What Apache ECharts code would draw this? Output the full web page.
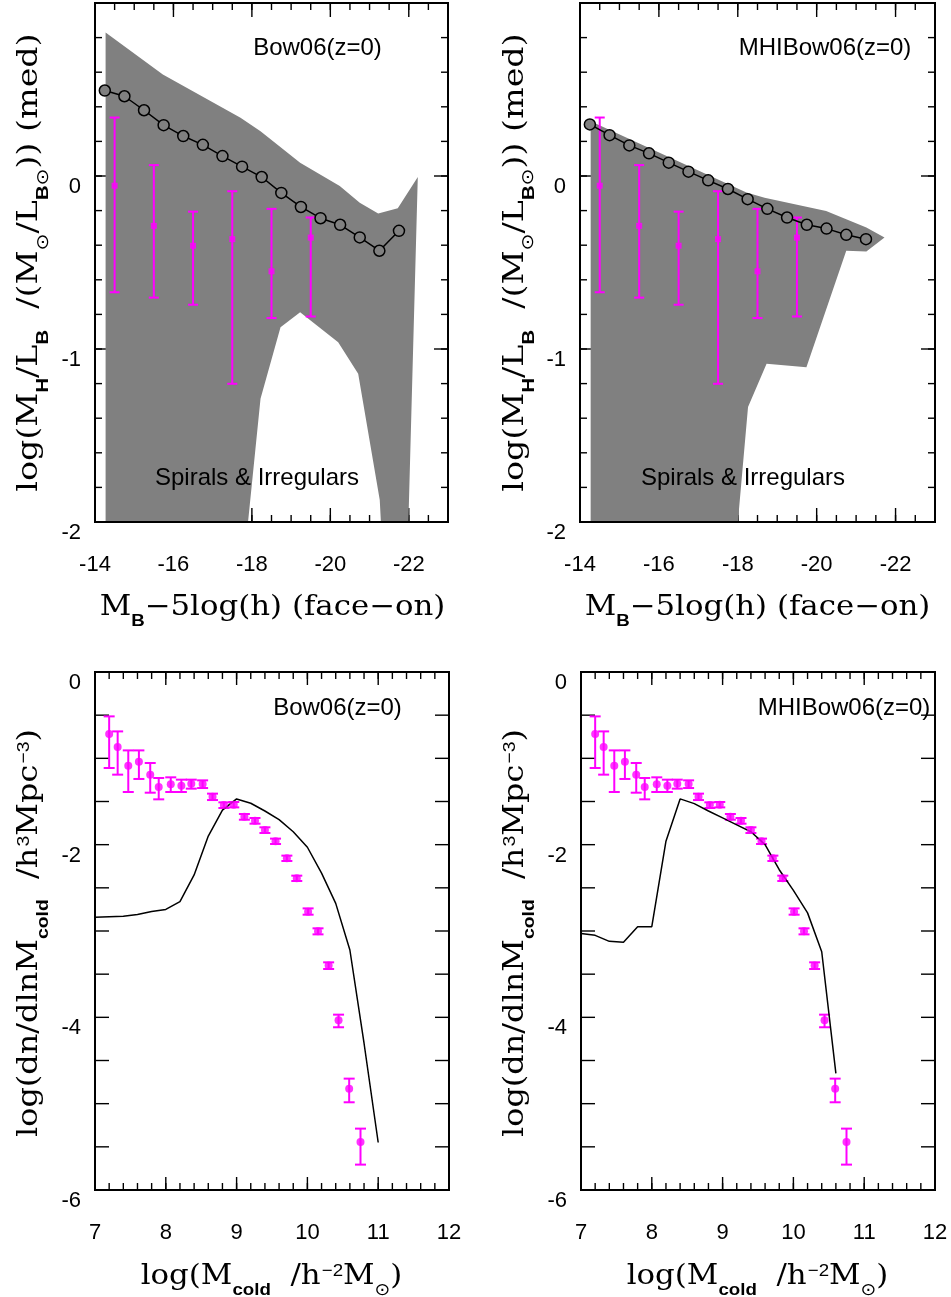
<!DOCTYPE html>
<html><head><meta charset="utf-8">
<script src="https://cdn.jsdelivr.net/npm/echarts@6/dist/echarts.min.js"></script>
<style>html,body{margin:0;padding:0;background:#fff}#c{width:951px;height:1297px}</style>
</head><body><div id="c"></div>
<script>
// ---------------- DATA ----------------
// Top panels: x = M_B - 5log(h); y = log(M_H/L_B)
const xTicksTop = [-14, -16, -18, -20, -22];
const yTicksTop = [-2, -1, 0];
// median model (open circles), left panel (Bow06)
const medXLeft = [-14.25,-14.75,-15.25,-15.75,-16.25,-16.75,-17.25,-17.75,-18.25,-18.75,-19.25,-19.75,-20.25,-20.75,-21.25,-21.75];
const medYLeft = [0.494,0.461,0.380,0.294,0.231,0.180,0.115,0.054,-0.006,-0.098,-0.179,-0.244,-0.282,-0.355,-0.432,-0.317];
// median model, right panel (MHIBow06)
const medXRight = [-14.25,-14.75,-15.25,-15.75,-16.25,-16.75,-17.25,-17.75,-18.25,-18.75,-19.25,-19.75,-20.25,-20.75,-21.25];
const medYRight = [0.298,0.236,0.177,0.131,0.077,0.025,-0.025,-0.075,-0.134,-0.190,-0.240,-0.282,-0.304,-0.340,-0.365];
// grey band (model spread), left panel
const bandUpXLeft = [-14.27,-15.73,-17.71,-18.22,-19.23,-20.24,-20.75,-21.22,-21.72,-22.23];
const bandUpYLeft = [0.830,0.586,0.336,0.259,0.077,-0.058,-0.154,-0.217,-0.186,-0.006];
const bandLoXLeft = [-14.27,-17.75,-18.22,-18.73,-19.23,-20.20,-20.71,-21.26,-21.75];
const bandLoYLeft = [-3.0,-2.34,-1.287,-0.874,-0.788,-0.961,-1.143,-1.873,-4.0];
// grey band, right panel
const bandUpXRight = [-14.27,-18.22,-18.68,-20.24,-20.75,-21.26,-21.72];
const bandUpYRight = [0.317,-0.096,-0.125,-0.202,-0.250,-0.298,-0.356];
const bandLoXRight = [-14.27,-17.75,-18.26,-18.73,-19.74,-20.75,-21.26,-21.72];
const bandLoYRight = [-3.0,-2.65,-1.335,-1.085,-1.105,-0.432,-0.436,-0.356];
// observations (magenta squares with error bars)
const obsMagX = [-14.5,-15.5,-16.5,-17.5,-18.5,-19.5];
const obsMagY = [-0.056,-0.288,-0.403,-0.365,-0.551,-0.356];
const obsMagHi = [0.338,0.063,-0.206,-0.088,-0.190,-0.240];
const obsMagLo = [-0.672,-0.703,-0.744,-1.201,-0.821,-0.812];

// Bottom panels: x = log(M_cold); y = log(dn/dlnM)
const yTicksBot = [-6, -4, -2, 0];
const massX = [7.20,7.32,7.47,7.62,7.78,7.90,8.07,8.22,8.36,8.52,8.66,8.82,8.96,9.11,9.26,9.40,9.55,9.71,9.85,10.01,10.15,10.30,10.44,10.59,10.75];
const massY = [-0.718,-0.869,-1.085,-1.039,-1.189,-1.332,-1.301,-1.317,-1.294,-1.297,-1.444,-1.541,-1.537,-1.676,-1.722,-1.830,-1.961,-2.158,-2.390,-2.776,-3.004,-3.401,-4.035,-4.826,-5.443];
const massHi = [-0.514,-0.688,-0.908,-0.908,-1.054,-1.228,-1.220,-1.247,-1.247,-1.255,-1.409,-1.510,-1.506,-1.645,-1.691,-1.799,-1.930,-2.127,-2.359,-2.738,-2.969,-3.363,-3.969,-4.710,-5.289];
const massLo = [-1.112,-1.189,-1.390,-1.239,-1.398,-1.475,-1.390,-1.390,-1.351,-1.344,-1.483,-1.575,-1.568,-1.711,-1.757,-1.865,-1.992,-2.189,-2.421,-2.811,-3.039,-3.440,-4.115,-4.984,-5.706];
// model mass functions
const mfXLeft = [7.0,7.2,7.4,7.6,7.8,8.0,8.2,8.4,8.6,8.8,9.0,9.2,9.4,9.6,9.8,10.0,10.2,10.4,10.6,10.8,11.0];
const mfYLeft = [-2.84,-2.835,-2.83,-2.81,-2.775,-2.75,-2.66,-2.35,-1.90,-1.60,-1.47,-1.52,-1.61,-1.71,-1.85,-2.03,-2.33,-2.68,-3.22,-4.30,-5.45];
const mfXRight = [7.0,7.2,7.4,7.6,7.8,8.0,8.2,8.4,8.6,8.8,9.0,9.2,9.4,9.6,9.8,10.0,10.2,10.4,10.6];
const mfYRight = [-3.03,-3.05,-3.12,-3.13,-2.95,-2.95,-1.96,-1.47,-1.525,-1.61,-1.69,-1.77,-1.85,-2.0,-2.29,-2.53,-2.79,-3.24,-4.65];

// ---------------- LAYOUT ----------------
const rects = [
  {left:95, top:3, width:353, height:519},
  {left:580, top:3, width:355, height:519},
  {left:95, top:672, width:354, height:518},
  {left:581, top:672, width:354, height:518}
];
const grids = rects.map(r => ({...r, containLabel:false}));

const lab = {color:'#000', fontFamily:'Liberation Sans', fontSize:22};
const base = {type:'value', axisLine:{show:false, onZero:false}, axisTick:{show:false}, minorTick:{show:false},
  splitLine:{show:false}, minorSplitLine:{show:false}, z:0};

const xAxes = [], yAxes = [];
for (let g = 0; g < 2; g++) {
  xAxes.push({...base, gridIndex:g, position:'bottom', min:-23, max:-14, inverse:true,
    axisLabel:{customValues:xTicksTop, margin:32, ...lab}});
  yAxes.push({...base, gridIndex:g, position:'left', min:-2, max:1, interval:1,
    axisLabel:{customValues:yTicksTop, verticalAlign:'top', margin:14, ...lab}});
}
for (let g = 2; g < 4; g++) {
  xAxes.push({...base, gridIndex:g, position:'bottom', min:7, max:12, interval:1,
    axisLabel:{margin:32, ...lab}});
  yAxes.push({...base, gridIndex:g, position:'left', min:-6, max:0, interval:0.5,
    axisLabel:{customValues:yTicksBot, verticalAlign:'top', margin:14, ...lab}});
}

// tick positions (axis decoration, drawn on all four sides, pointing inwards)
function steps(a, b, n) { const out = []; for (let i = 0; i <= n; i++) out.push(a + (b - a) * i / n); return out; }
const tickSpec = [
  {xMaj: xTicksTop, xMin: steps(-14, -23, 18), yMaj: [-2,-1,0,1], yMin: steps(-2, 1, 15), yRef:0, xRef:-18, lx:[14,7], ly:[14,7]},
  {xMaj: xTicksTop, xMin: steps(-14, -23, 18), yMaj: [-2,-1,0,1], yMin: steps(-2, 1, 15), yRef:0, xRef:-18, lx:[14,7], ly:[14,7]},
  {xMaj: [7,8,9,10,11,12], xMin: steps(7, 12, 25), yMaj: steps(-6, 0, 12), yMin: [], yRef:-3, xRef:9, lx:[13,7], ly:[14,7]},
  {xMaj: [7,8,9,10,11,12], xMin: steps(7, 12, 25), yMaj: steps(-6, 0, 12), yMin: [], yRef:-3, xRef:9, lx:[13,7], ly:[14,7]}
];

// ---------------- SERIES ----------------
const series = [];
function ticks(g) {
  const s = tickSpec[g];
  series.push({type:'custom', xAxisIndex:g, yAxisIndex:g, silent:true, clip:false, z:1,
    data:[[s.xRef, s.yRef]],
    renderItem: (p, api) => {
      const cs = p.coordSys;
      const top = cs.y, bot = cs.y + cs.height, left = cs.x, right = cs.x + cs.width;
      const st = {stroke:'#000', lineWidth:1.4};
      const kids = [];
      const addX = (v, L) => {
        const px = api.coord([v, s.yRef])[0];
        kids.push({type:'line', shape:{x1:px, y1:bot, x2:px, y2:bot - L}, style:st});
        kids.push({type:'line', shape:{x1:px, y1:top, x2:px, y2:top + L}, style:st});
      };
      const addY = (v, L) => {
        const py = api.coord([s.xRef, v])[1];
        kids.push({type:'line', shape:{x1:left, y1:py, x2:left + L, y2:py}, style:st});
        kids.push({type:'line', shape:{x1:right, y1:py, x2:right - L, y2:py}, style:st});
      };
      s.xMin.forEach(v => addX(v, s.lx[1]));
      s.xMaj.forEach(v => addX(v, s.lx[0]));
      s.yMin.forEach(v => addY(v, s.ly[1]));
      s.yMaj.forEach(v => addY(v, s.ly[0]));
      return {type:'group', children:kids};
    }});
}
function band(g, ux, uy, lx, ly) {
  series.push({type:'custom', xAxisIndex:g, yAxisIndex:g, clip:true, silent:true, z:2,
    data:[[ux[0], uy[0]]],
    renderItem: (p, api) => {
      const pts = [];
      for (let i = 0; i < ux.length; i++) pts.push(api.coord([ux[i], uy[i]]));
      for (let i = lx.length-1; i >= 0; i--) pts.push(api.coord([lx[i], ly[i]]));
      return {type:'polygon', shape:{points:pts}, style:{fill:'#808080'}};
    }});
}
function errBars(g, xs, lo, hi, cap) {
  series.push({type:'custom', xAxisIndex:g, yAxisIndex:g, silent:true, z:3,
    data: xs.map((x,i) => [x, lo[i], hi[i]]),
    encode:{x:0, y:[1,2]},
    renderItem: (p, api) => {
      const x = api.value(0);
      const a = api.coord([x, api.value(1)]);
      const b = api.coord([x, api.value(2)]);
      const st = {stroke:'#ff00ff', lineWidth:2};
      const w = cap/2;
      return {type:'group', children:[
        {type:'line', shape:{x1:a[0], y1:a[1], x2:b[0], y2:b[1]}, style:st},
        {type:'line', shape:{x1:a[0]-w, y1:a[1], x2:a[0]+w, y2:a[1]}, style:st},
        {type:'line', shape:{x1:b[0]-w, y1:b[1], x2:b[0]+w, y2:b[1]}, style:st}
      ]};
    }});
}
function points(g, xs, ys, symbol, size) {
  series.push({type:'scatter', xAxisIndex:g, yAxisIndex:g, silent:true, z:4,
    symbol:symbol, symbolSize:size, itemStyle:{color:'#ff00ff'},
    data: xs.map((x,i) => [x, ys[i]])});
}
function median(g, xs, ys) {
  series.push({type:'line', xAxisIndex:g, yAxisIndex:g, silent:true, z:5,
    symbol:'circle', symbolSize:11, showAllSymbol:true,
    itemStyle:{color:'#808080', borderColor:'#000', borderWidth:1.5},
    lineStyle:{color:'#000', width:1.5},
    data: xs.map((x,i) => [x, ys[i]])});
}
function model(g, xs, ys) {
  series.push({type:'line', xAxisIndex:g, yAxisIndex:g, silent:true, z:3,
    symbol:'none', lineStyle:{color:'#000', width:1.5},
    data: xs.map((x,i) => [x, ys[i]])});
}
for (let g = 0; g < 4; g++) ticks(g);

band(0, bandUpXLeft, bandUpYLeft, bandLoXLeft, bandLoYLeft);
errBars(0, obsMagX, obsMagLo, obsMagHi, 10);
points(0, obsMagX, obsMagY, 'rect', 6);
median(0, medXLeft, medYLeft);

band(1, bandUpXRight, bandUpYRight, bandLoXRight, bandLoYRight);
errBars(1, obsMagX, obsMagLo, obsMagHi, 10);
points(1, obsMagX, obsMagY, 'rect', 6);
median(1, medXRight, medYRight);

model(2, mfXLeft, mfYLeft);
errBars(2, massX, massLo, massHi, 11);
points(2, massX, massY, 'circle', 8);

model(3, mfXRight, mfYRight);
errBars(3, massX, massLo, massHi, 11);
points(3, massX, massY, 'circle', 8);

// ---------------- TEXT / FRAMES ----------------
const rich = {
  m:  {fontFamily:'DejaVu Serif', fontSize:28, lineHeight:30, verticalAlign:'top', fill:'#000'},
  sb: {fontFamily:'Liberation Sans', fontWeight:'bold', fontSize:17, lineHeight:17, verticalAlign:'top', padding:[19,0,0,0], fill:'#000'},
  so: {fontFamily:'DejaVu Sans', fontSize:17, lineHeight:17, verticalAlign:'top', padding:[19,0,0,0], fill:'#000'},
  sp: {fontFamily:'Liberation Sans', fontSize:17, lineHeight:17, verticalAlign:'top', padding:[0,0,0,1], fill:'#000'}
};
const titleTopX = '{m|M}{sb|B}{m|−5log(h) (face−on)}';
const titleTopY = '{m|log(M}{sb|H}{m|/L}{sb|B}{m|  /(M}{so|⊙}{m|/L}{sb|B}{so|⊙}{m|)) (med)}';
const titleBotX = '{m|log(M}{sb|cold}{m|  /h}{sp|−2}{m|M}{so|⊙}{m|)}';
const titleBotY = '{m|log(dn/dlnM}{sb|cold}{m|  /h}{sp|3}{m|Mpc}{sp|−3}{m|)}';

function title(text, x, y, rot, sx) {
  return {type:'text', x:x, y:y, rotation:rot, scaleX:sx, z:50,
    style:{text:text, rich:rich, align:'center', verticalAlign:'middle', fill:'#000'}};
}
function note(text, x, y) {
  return {type:'text', x:x, y:y, z:50,
    style:{text:text, fontFamily:'Liberation Sans', fontSize:24, fill:'#000', align:'center', verticalAlign:'middle'}};
}
const graphics = [];
rects.forEach(r => graphics.push({type:'rect', z:100, silent:true,
  shape:{x:r.left, y:r.top, width:r.width, height:r.height},
  style:{fill:null, stroke:'#000', lineWidth:2}}));
graphics.push(
  title(titleTopX, 272.5, 609, 0, 1.1),
  title(titleTopX, 757.5, 609, 0, 1.1),
  title(titleBotX, 271.5, 1278, 0, 1.1),
  title(titleBotX, 757.5, 1278, 0, 1.1),
  title(titleTopY, 31, 262.5, Math.PI/2, 1.19),
  title(titleTopY, 516.5, 262.5, Math.PI/2, 1.19),
  title(titleBotY, 31, 933, Math.PI/2, 1.14),
  title(titleBotY, 516.5, 933, Math.PI/2, 1.14),
  note('Bow06(z=0)', 317.5, 48),
  note('MHIBow06(z=0)', 825, 48),
  note('Spirals & Irregulars', 257, 478),
  note('Spirals & Irregulars', 743, 478),
  note('Bow06(z=0)', 337.5, 708),
  note('MHIBow06(z=0)', 844, 708)
);

const chart = echarts.init(document.getElementById('c'), null, {renderer:'canvas'});
chart.setOption({
  animation:false,
  backgroundColor:'#fff',
  grid: grids,
  xAxis: xAxes,
  yAxis: yAxes,
  series: series,
  graphic: {elements: graphics}
});
</script></body></html>
